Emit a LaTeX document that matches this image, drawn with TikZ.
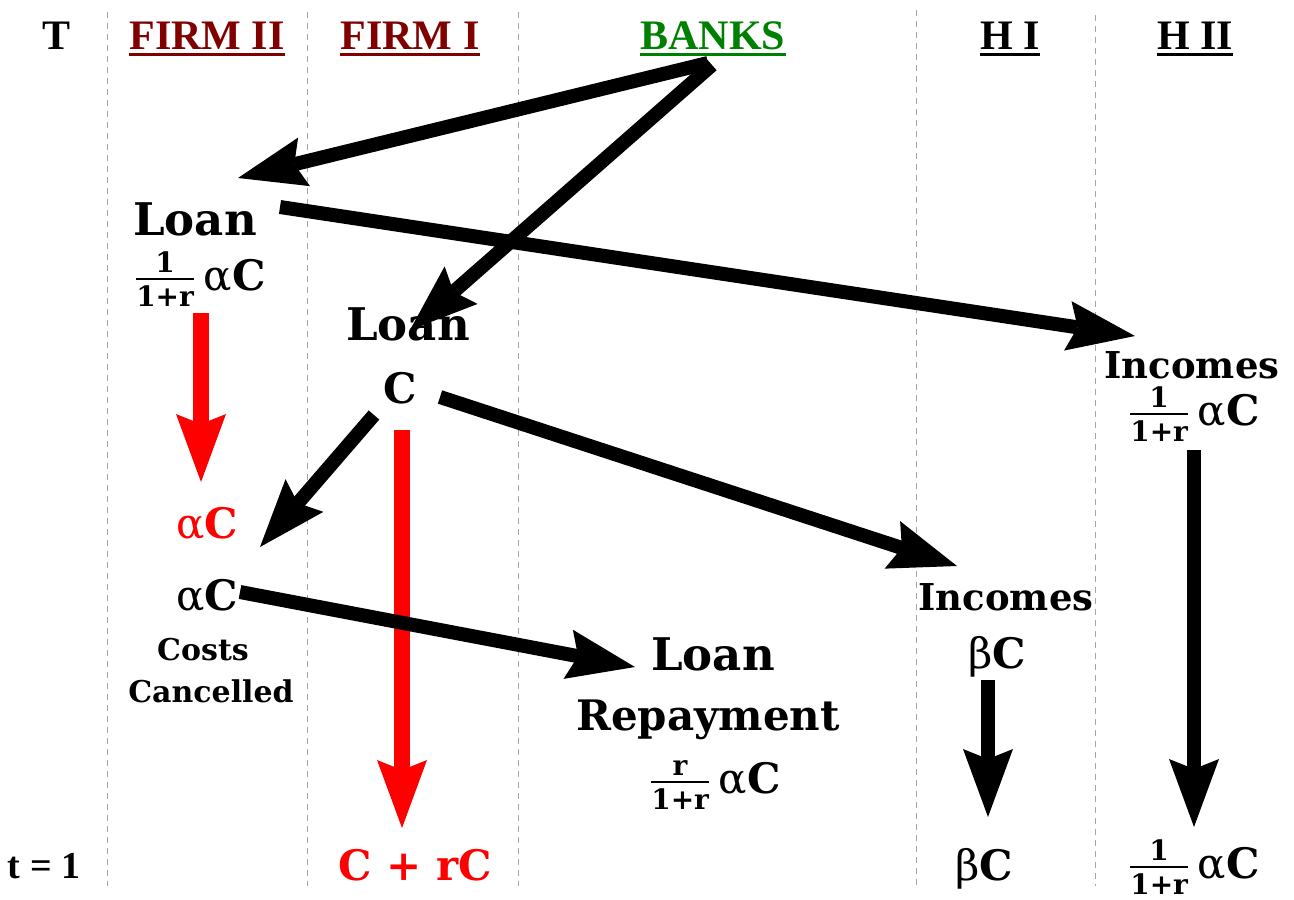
\documentclass[tikz,border=0pt]{standalone}
\usepackage{fontspec}
\setmainfont{DejaVu Serif}
\newfontfamily\hdrfont{Liberation Serif}
\usetikzlibrary{arrows.meta,calc}
\definecolor{firmred}{RGB}{128,0,0}
\definecolor{bankgreen}{RGB}{0,128,0}
\definecolor{vgray}{RGB}{165,165,165}
\newcommand\myfr[2]{\raisebox{-16pt}{\fontsize{28}{32}\selectfont\bfseries\vbox{\offinterlineskip\halign{\hfil##\hfil\cr#1\cr\noalign{\kern5pt\hrule height 2.5pt\kern5pt}#2\cr}}}\hspace{10pt}}
\newcommand\malpha{{\mdseries α}}
\newcommand\mbeta{{\mdseries β}}
\tikzset{
  hdr/.style={font=\hdrfont\fontsize{42}{46}\selectfont\bfseries, anchor=base, inner sep=0pt},
  txt/.style={font=\fontsize{42}{46}\selectfont\bfseries, anchor=base, inner sep=0pt},
  loanfont/.style={txt, font=\fontsize{45}{48}\selectfont\bfseries},
  inc/.style={txt, font=\fontsize{37}{40}\selectfont\bfseries},
  sm/.style={txt, font=\fontsize{30}{32}\selectfont\bfseries},
  vline/.style={vgray, line width=1pt, dash pattern=on 6pt off 5pt},
  uline/.style={line width=3pt},
  arr/.style={line width=14pt, -{Stealth[length=68pt,width=50pt,inset=10pt,line width=0pt]}},
  rarr/.style={arr, red, line width=16pt}
}
\begin{document}
\begin{tikzpicture}[x=1pt,y=-1pt]
\useasboundingbox (0,0) rectangle (1294,900);
% column separators
\draw[vline] (107,12) -- (107,886);
\draw[vline] (307,12) -- (307,886);
\draw[vline] (518,12) -- (518,886);
\draw[vline] (916,10) -- (916,886);
\draw[vline] (1095,15) -- (1095,886);
% headers
\node[hdr] (hT) at (57,49) {T};
\node[hdr, firmred] (hF2) at (207,49) {FIRM II};
\node[hdr, firmred] (hF1) at (410,49) {FIRM I};
\node[hdr, bankgreen] (hB) at (713,49) {BANKS};
\node[hdr] (hH1) at (1010,49) {H I};
\node[hdr] (hH2) at (1195,49) {H II};
\node[hdr, font=\hdrfont\fontsize{38}{42}\selectfont\bfseries] (tOne) at (44,878) {t = 1};
\draw[uline, firmred] ($(hF2.base west)+(0,5)$) -- ($(hF2.base east)+(0,5)$);
\draw[uline, firmred] ($(hF1.base west)+(0,5)$) -- ($(hF1.base east)+(0,5)$);
\draw[uline, bankgreen] ($(hB.base west)+(0,5)$) -- ($(hB.base east)+(0,5)$);
\draw[uline] ($(hH1.base west)+(0,5)$) -- ($(hH1.base east)+(0,5)$);
\draw[uline] ($(hH2.base west)+(0,5)$) -- ($(hH2.base east)+(0,5)$);
% body texts
\node[loanfont] (loanA) at (195,235) {Loan};
\node[txt] (amtA) at (201,290) {\myfr{1}{1+r}\malpha C};
\node[loanfont] (loanB) at (408,340) {Loan};
\node[txt] (cB) at (400,403) {C};
\node[inc] (incA) at (1192,378) {Incomes};
\node[txt] (amtH) at (1195,425) {\myfr{1}{1+r}\malpha C};
\node[txt, red] (acRed) at (207,538) {\malpha C};
\node[txt] (acBlk) at (207,610) {\malpha C};
\node[sm] (costs) at (203,660) {Costs};
\node[sm] (canc) at (211,702) {Cancelled};
\node[loanfont] (loanR) at (713,670) {Loan};
\node[txt] (repay) at (708,730) {Repayment};
\node[txt] (amtR) at (716,793) {\myfr{r}{1+r}\malpha C};
\node[inc] (incB) at (1006,610) {Incomes};
\node[txt] (bC) at (997,668) {\mbeta C};
\node[txt, red] (fin1) at (415,880) {C + rC};
\node[txt] (fin2) at (984,880) {\mbeta C};
\node[txt] (fin3) at (1195,878) {\myfr{1}{1+r}\malpha C};
% connectors
\draw[arr] ($(hB.base)+(-5,14)$) -- ($(loanA.base)+(43,-57)$);
\draw[arr] ($(hB.base)+(-1,16)$) -- ($(loanB.base)+(2,-10)$);
\draw[arr] ($(loanA.base)+(85,-28)$) -- ($(incA.base)+(-57,-42)$);
\draw[rarr] ($(amtA.base)+(0,23)$) -- ($(acRed.base)+(-6,-56)$);
\draw[arr] ($(cB.base)+(-26,12)$) -- ($(acBlk.base)+(53,-63)$);
\draw[arr] ($(cB.base)+(40,-6)$) -- ($(incB.base)+(-49,-44)$);
\draw[rarr] ($(cB.base)+(2,27)$) -- ($(fin1.base)+(-13,-52)$);
\draw[arr] ($(acBlk.base)+(33,-18)$) -- ($(loanR.base)+(-78,-3)$);
\draw[arr] ($(bC.base)+(-9,12)$) -- ($(fin2.base)+(4,-63)$);
\draw[arr] ($(amtH.base)+(-1,25)$) -- ($(fin3.base)+(-1,-51)$);
\end{tikzpicture}
\end{document}
